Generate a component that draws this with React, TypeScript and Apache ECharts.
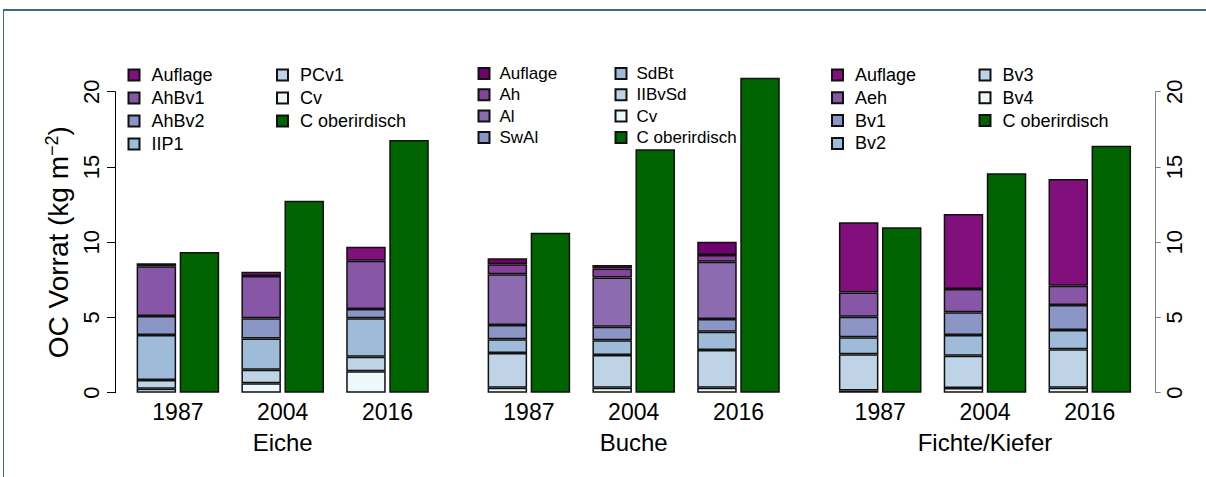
import React, { useEffect, useRef } from "react";
import * as echarts from "echarts";

// ---- data ----
const years = ["1987", "2004", "2016"];
const panels = ["Eiche", "Buche", "Fichte/Kiefer"];

// Eiche layers (bottom -> top), segment thickness in kg m-2
const eicheLayers = ["Cv", "PCv1", "IIP1", "AhBv2", "AhBv1", "Auflage"];
const eicheCv = [0.27, 0.62, 1.42];
const eichePCv1 = [0.57, 0.91, 0.97];
const eicheIIP1 = [2.99, 2.07, 2.55];
const eicheAhBv2 = [1.27, 1.34, 0.62];
const eicheAhBv1 = [3.3, 2.81, 3.21];
const eicheAuflage = [0.2, 0.29, 0.93];
const eicheOberirdisch = [9.35, 12.76, 16.79];

// Buche layers (bottom -> top)
const bucheLayers = ["Cv", "IIBvSd", "SdBt", "SwAl", "Al", "Ah", "Auflage"];
const bucheCv = [0.33, 0.33, 0.33];
const bucheIIBvSd = [2.3, 2.17, 2.51];
const bucheSdBt = [0.92, 0.98, 1.21];
const bucheSwAl = [0.95, 0.91, 0.85];
const bucheAl = [3.37, 3.26, 3.8];
const bucheAh = [0.66, 0.61, 0.45];
const bucheAuflage = [0.4, 0.22, 0.88];
const bucheOberirdisch = [10.63, 16.17, 20.93];

// Fichte/Kiefer layers (bottom -> top)
const fichteLayers = ["Bv4", "Bv3", "Bv2", "Bv1", "Aeh", "Auflage"];
const fichteBv4 = [0.15, 0.31, 0.33];
const fichteBv3 = [2.4, 2.15, 2.55];
const fichteBv2 = [1.13, 1.37, 1.29];
const fichteBv1 = [1.37, 1.51, 1.66];
const fichteAeh = [1.6, 1.55, 1.28];
const fichteAuflage = [4.67, 4.98, 7.09];
const fichteOberirdisch = [10.99, 14.58, 16.41];

const yTicks = [0, 5, 10, 15, 20];

// colours (BuPu)
const bupu6 = ["#edf8fb", "#bfd3e6", "#9ebcda", "#8c96c6", "#8856a7", "#810f7c"];
const bupu7 = ["#edf8fb", "#bfd3e6", "#9ebcda", "#8c96c6", "#8c6bb1", "#88419d", "#6e016b"];
const green = "#006400";

const FONT = "'Liberation Sans', Arial, Helvetica, sans-serif";

const panelData = [
  {
    layers: eicheLayers,
    values: [eicheCv, eichePCv1, eicheIIP1, eicheAhBv2, eicheAhBv1, eicheAuflage],
    colors: bupu6,
    oberirdisch: eicheOberirdisch,
    legendCols: [["Auflage", "AhBv1", "AhBv2", "IIP1"], ["PCv1", "Cv", "C oberirdisch"]],
  },
  {
    layers: bucheLayers,
    values: [bucheCv, bucheIIBvSd, bucheSdBt, bucheSwAl, bucheAl, bucheAh, bucheAuflage],
    colors: bupu7,
    oberirdisch: bucheOberirdisch,
    legendCols: [["Auflage", "Ah", "Al", "SwAl"], ["SdBt", "IIBvSd", "Cv", "C oberirdisch"]],
  },
  {
    layers: fichteLayers,
    values: [fichteBv4, fichteBv3, fichteBv2, fichteBv1, fichteAeh, fichteAuflage],
    colors: bupu6,
    oberirdisch: fichteOberirdisch,
    legendCols: [["Auflage", "Aeh", "Bv1", "Bv2"], ["Bv3", "Bv4", "C oberirdisch"]],
  },
];

const gridLefts = [125.5, 476.5, 827.8];
const gridWidth = 314.4;
const gridTop = 91.7;
const gridHeight = 301;

const legendPos = [
  { cols: [127.5, 276], top: 66, font: 18, gap: 5, pad: 7 },
  { cols: [477.5, 614.5], top: 65, font: 17, gap: 4.3, pad: 5 },
  { cols: [831, 978.5], top: 66, font: 18, gap: 4.8, pad: 7 },
];

function buildOption() {
  const grids: any[] = [];
  const xAxes: any[] = [];
  const yAxes: any[] = [];
  const series: any[] = [];
  const legends: any[] = [];

  panels.forEach((panel, p) => {
    grids.push({ left: gridLefts[p], top: gridTop, width: gridWidth, height: gridHeight, containLabel: false });
    xAxes.push({
      type: "category",
      gridIndex: p,
      data: years,
      axisLine: { show: false },
      axisTick: { show: false },
      axisLabel: { fontSize: 23, color: "#000", fontFamily: FONT, margin: 8 },
      name: panel,
      nameLocation: "middle",
      nameGap: 38,
      nameTextStyle: { fontSize: 24, color: "#000", fontFamily: FONT },
    });
    const yBase: any = {
      type: "value",
      gridIndex: p,
      min: 0,
      max: 20,
      interval: 5,
      splitLine: { show: false },
    };
    if (p === 0) {
      yAxes.push({
        ...yBase,
        position: "left",
        offset: gridLefts[0] - 115,
        axisLine: { show: true, lineStyle: { color: "#000", width: 1 } },
        axisTick: { show: true, length: 8, lineStyle: { color: "#000" } },
        axisLabel: { rotate: 90, fontSize: 22, color: "#000", fontFamily: FONT, margin: 13 },
        name: "OC Vorrat (kg m{sup|−2})",
        nameLocation: "middle",
        nameRotate: 90,
        nameGap: 41,
        nameTextStyle: {
          fontSize: 28,
          color: "#000",
          fontFamily: FONT,
          rich: { sup: { fontSize: 18, fontFamily: FONT, color: "#000", padding: [0, 0, 13, 0] } },
        },
      });
    } else if (p === 2) {
      yAxes.push({
        ...yBase,
        position: "right",
        offset: 1155.7 - (gridLefts[2] + gridWidth),
        axisLine: { show: true, lineStyle: { color: "#808080", width: 1 } },
        axisTick: { show: true, length: 5, lineStyle: { color: "#808080" } },
        axisLabel: { rotate: 90, fontSize: 22, color: "#000", fontFamily: FONT, margin: 8 },
      });
    } else {
      yAxes.push({ ...yBase, show: false });
    }

    const pd = panelData[p];
    pd.layers.forEach((layer, i) => {
      series.push({
        type: "bar",
        name: `${panel}: ${layer}`,
        xAxisIndex: p,
        yAxisIndex: p,
        stack: `s${p}`,
        data: pd.values[i],
        barWidth: 39.5,
        barGap: "9%",
        clip: false,
        itemStyle: { color: pd.colors[i], borderColor: "#111", borderWidth: 1.5 },
        emphasis: { disabled: true },
      });
    });
    series.push({
      type: "bar",
      name: `${panel}: C oberirdisch`,
      xAxisIndex: p,
      yAxisIndex: p,
      data: pd.oberirdisch,
      barWidth: 39.5,
      barGap: "9%",
      clip: false,
      itemStyle: { color: green, borderColor: "#111", borderWidth: 1.5 },
      emphasis: { disabled: true },
    });

    const lp = legendPos[p];
    pd.legendCols.forEach((col, c) => {
      legends.push({
        orient: "vertical",
        left: lp.cols[c],
        top: lp.top,
        padding: 0,
        itemGap: lp.gap,
        itemWidth: 11,
        itemHeight: 11,
        icon: "rect",
        selectedMode: false,
        data: col.map((n) => `${panel}: ${n}`),
        formatter: (name: string) => name.slice(name.indexOf(": ") + 2),
        textStyle: {
          fontSize: lp.font,
          lineHeight: lp.font,
          color: "#000",
          fontFamily: FONT,
          padding: [0, 0, 0, lp.pad],
        },
      });
    });
  });

  return {
    animation: false,
    backgroundColor: "#fff",
    textStyle: { fontFamily: FONT },
    grid: grids,
    xAxis: xAxes,
    yAxis: yAxes,
    legend: legends,
    series,
    graphic: [
      { type: "rect", shape: { x: 3, y: 9, width: 1203, height: 2 }, style: { fill: "#3f6b80" } },
      { type: "rect", shape: { x: 3, y: 9, width: 1, height: 468 }, style: { fill: "#3f6b80" } },
    ],
  };
}

export default function App() {
  const ref = useRef<HTMLDivElement>(null);
  useEffect(() => {
    if (!ref.current) return;
    const chart = echarts.init(ref.current, undefined, { renderer: "svg" });
    chart.setOption(buildOption() as any);
    return () => chart.dispose();
  }, []);
  return (
    <div
      ref={ref}
      style={{ position: "absolute", left: 0, top: 0, width: 1206, height: 477, background: "#fff" }}
    />
  );
}
